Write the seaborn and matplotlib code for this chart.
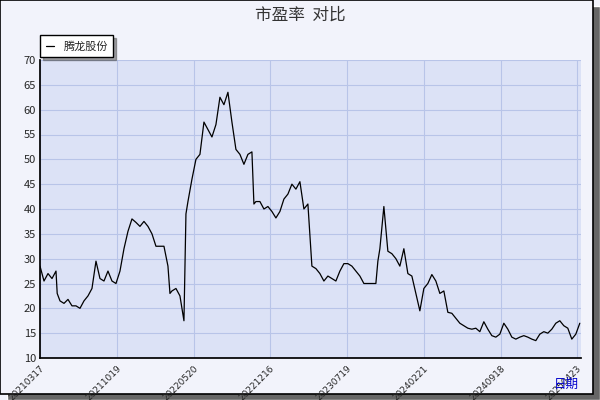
import matplotlib
matplotlib.use("Agg")
import matplotlib.pyplot as plt
import seaborn as sns
import pandas as pd
from matplotlib.patches import Rectangle

sns.set_theme(style="white")
plt.rcParams['font.family'] = ['Noto Sans CJK SC', 'DejaVu Sans']

day_idx = [0,1,2,3,4,4.3,5,6,7,8,9,10,11,12,13,14,15,16,17,18,19,20,21,22,23,24,25,26,27,28,29,30,31,32,32.5,
           33,34,35,36,36.5,37,38,39,40,41,42,43,44,45,46,47,48,
           49,50,51,52,53,53.5,54,55,56,57,58,59,60,61,62,63,64,65,66,66.5,67,68,69,70,71,72,73,74,75,76,77,78,79,80,81,
           82,83,84,84.5,85,86,87,88,89,90,91,92,93,94,95,96,97,98,99,100,101,102,103,104,105,106,107,108,109,110,111,112,
           113,114,115,116,117,118,119,120,121,122,123,124,125,126,127,128,129,130,131,132,133,134,135]
pe = [28.5,25.5,27,26,27.5,23,21.5,21,21.8,20.5,20.5,20,21.5,22.5,24,29.5,26,25.5,27.5,25.5,25,27.5,32,35.5,38,37.3,36.5,37.5,36.5,35,32.5,32.5,32.5,28.5,23,
      23.5,24,22.5,17.5,39,41.5,46,50,51,57.5,56,54.5,57,62.5,61,63.5,57.5,
      52,51,49,51,51.5,41,41.5,41.5,40,40.5,39.5,38.2,39.5,42,43,45,44,45.5,40,40.5,41,28.5,28,27,25.5,26.5,26,25.5,27.5,29,29,28.5,27.5,26.5,25,25,
      25,25,29.5,32,40.5,31.5,31,30,28.5,32,27,26.5,23,19.5,24,25,26.8,25.5,23,23.5,19.2,19,18,17,16.5,16,15.8,16,15.3,17.3,
      15.8,14.5,14.2,14.8,17,15.8,14.2,13.8,14.2,14.5,14.2,13.8,13.5,14.8,15.3,15,15.8,17,17.5,16.5,16,13.8,14.8,17]
tick_pos = [0, 19.25, 38.5, 57.5, 76.75, 96, 115.25, 134.25]
tick_labels = ["20210317","20211019","20220520","20221216","20230719","20240221","20240918","20250423"]

df = pd.DataFrame({"d": day_idx, "pe": pe})

fig = plt.figure(figsize=(6, 4), dpi=100, facecolor="#f2f3fb")
fig.patches.append(Rectangle((0.012, 0.0), 0.988, 0.985, transform=fig.transFigure, facecolor="#666666", zorder=-2))
fig.patches.append(Rectangle((0.0, 0.015), 0.988, 0.985, transform=fig.transFigure, facecolor="#f2f3fb",
                             edgecolor="black", linewidth=1.2, zorder=-1))
ax = fig.add_axes([40/600, 42/400, 541/600, 298/400])
ax.set_facecolor("#dce2f6")
sns.lineplot(data=df, x="d", y="pe", ax=ax, color="black", linewidth=0.9, label="腾龙股份")
ax.set_xlim(0, 135.3)
ax.set_ylim(10, 70)
ax.set_yticks(range(10, 71, 5))
ax.set_xticks(tick_pos)
ax.set_xticklabels(tick_labels, rotation=45, ha="right", va="top", rotation_mode="anchor",
                   fontsize=6.5, family=["DejaVu Sans"])
ax.tick_params(axis="y", labelsize=8, length=3, direction="in", pad=3)
ax.tick_params(axis="x", length=3, direction="in", pad=4)
ax.grid(True, color="#b8c4e8", linewidth=0.8)
for s in ["top", "right"]:
    ax.spines[s].set_visible(False)
for s in ["left", "bottom"]:
    ax.spines[s].set_color("black")
ax.set_xlabel("")
ax.set_ylabel("")
leg = ax.legend(loc="lower left", bbox_to_anchor=(0.0, 1.01), frameon=True, fancybox=False, shadow=True,
                fontsize=8, handlelength=0.8, borderpad=0.5, borderaxespad=0)
leg.get_frame().set_edgecolor("black")
fig.text(0.5, 0.962, "市盈率  对比", ha="center", va="center", fontsize=12, color="#333333")
fig.text(0.965, 0.04, "日期", ha="right", va="center", fontsize=9, color="#0000cc")
fig.savefig("out.png", dpi=100, facecolor=fig.get_facecolor())
